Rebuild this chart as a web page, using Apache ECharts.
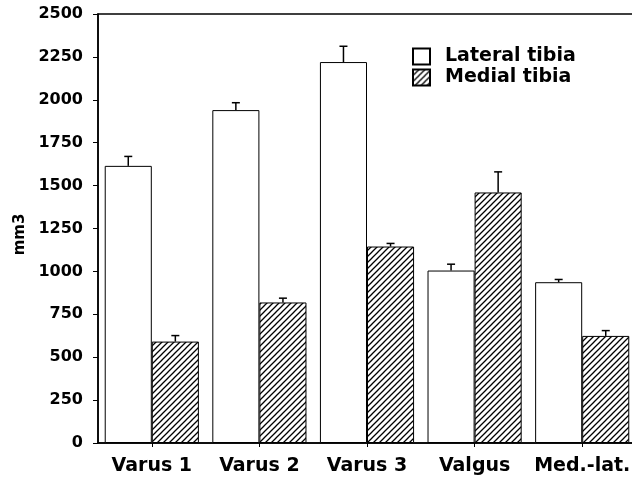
<!DOCTYPE html>
<html>
<head>
<meta charset="utf-8">
<script src="https://cdn.jsdelivr.net/npm/echarts@6/dist/echarts.min.js"></script>
<style>html,body{margin:0;padding:0;background:#fff;}#c{width:632px;height:480px;}</style>
</head>
<body>
<div id="c"></div>
<script>
var categories = ['Varus 1', 'Varus 2', 'Varus 3', 'Valgus', 'Med.-lat.'];
var lateralValues = [1615, 1940, 2220, 1005, 937];
var lateralErrors = [55, 43, 92, 37, 16];
var medialValues = [591, 819, 1145, 1460, 624];
var medialErrors = [35, 25, 18, 120, 31];
var yTicks = [0, 250, 500, 750, 1000, 1250, 1500, 1750, 2000, 2250, 2500];
var seriesNames = ['Lateral tibia', 'Medial tibia'];

function makeHatch() {
  var c = document.createElement('canvas');
  c.width = 6; c.height = 6;
  var g = c.getContext('2d');
  g.fillStyle = '#fff'; g.fillRect(0, 0, 6, 6);
  g.strokeStyle = '#000'; g.lineWidth = 1.3;
  g.beginPath();
  g.moveTo(-1, 7); g.lineTo(7, -1);
  g.moveTo(-1, 1); g.lineTo(1, -1);
  g.moveTo(5, 7); g.lineTo(7, 5);
  g.stroke();
  return c;
}
var hatch = makeHatch();

var FONT = 'DejaVu Sans';
var barGapFrac = 0.125;

function errRender(side, errs) {
  return function (params, api) {
    var idx = api.value(0);
    var val = api.value(1);
    var err = errs[params.dataIndex];
    var band = api.size([1, 0])[0];
    var bw = band * (1 - barGapFrac) / 2;
    var p0 = api.coord([idx, val]);
    var p1 = api.coord([idx, val + err]);
    var x = p0[0] + side * bw / 2;
    var style = { stroke: '#000', lineWidth: 1.5 };
    return {
      type: 'group',
      children: [
        { type: 'line', shape: { x1: x, y1: p0[1], x2: x, y2: p1[1] }, style: style },
        { type: 'line', shape: { x1: x - 4, y1: p1[1], x2: x + 4, y2: p1[1] }, style: style }
      ]
    };
  };
}

var chart = echarts.init(document.getElementById('c'), null, { renderer: 'canvas' });
chart.setOption({
  animation: false,
  backgroundColor: '#fff',
  grid: { left: 98, right: -4, top: 14, bottom: 37, containLabel: false, outerBoundsMode: 'none', show: true, borderColor: '#000', borderWidth: 1.5, backgroundColor: 'transparent' },
  legend: {
    data: seriesNames,
    orient: 'vertical',
    left: 412, top: 47, padding: 0,
    itemWidth: 17, itemHeight: 16, itemGap: 2,
    icon: 'rect',
    textStyle: { fontFamily: FONT, fontWeight: 'bold', fontSize: 19, color: '#000', padding: [0, 0, 0, 10] }
  },
  xAxis: {
    type: 'category',
    data: categories,
    axisLine: { lineStyle: { color: '#000', width: 1.5 } },
    axisTick: { show: true, alignWithLabel: true, length: 4, lineStyle: { color: '#000' } },
    axisLabel: { interval: 0, fontFamily: FONT, fontWeight: 'bold', fontSize: 19, color: '#000', margin: 14 },
    splitLine: { show: false }
  },
  yAxis: {
    type: 'value',
    min: yTicks[0], max: yTicks[yTicks.length - 1], interval: 250,
    name: 'mm3',
    nameLocation: 'middle',
    nameGap: 66,
    nameTextStyle: { fontFamily: FONT, fontWeight: 'bold', fontSize: 15, color: '#000', padding: [0, 12, 0, 0] },
    axisLine: { show: true, lineStyle: { color: '#000', width: 1.5 } },
    axisTick: { show: true, length: 5, lineStyle: { color: '#000' } },
    axisLabel: { fontFamily: FONT, fontWeight: 'bold', fontSize: 16, color: '#000', margin: 15, formatter: function (v) { return String(v); } },
    splitLine: { show: false }
  },
  series: [
    {
      name: seriesNames[0], type: 'bar', data: lateralValues,
      barGap: '0%', barCategoryGap: '12.5%',
      itemStyle: { color: '#fff', borderColor: '#000', borderWidth: 1 }
    },
    {
      name: seriesNames[1], type: 'bar', data: medialValues,
      barGap: '0%', barCategoryGap: '12.5%',
      itemStyle: { color: { image: hatch, repeat: 'repeat' }, borderColor: '#000', borderWidth: 1 }
    },
    {
      name: 'latErr', type: 'custom',
      data: lateralValues.map(function (v, i) { return [i, v]; }),
      renderItem: errRender(-1, lateralErrors), z: 3
    },
    {
      name: 'medErr', type: 'custom',
      data: medialValues.map(function (v, i) { return [i, v]; }),
      renderItem: errRender(1, medialErrors), z: 3
    }
  ]
});
</script>
</body>
</html>
